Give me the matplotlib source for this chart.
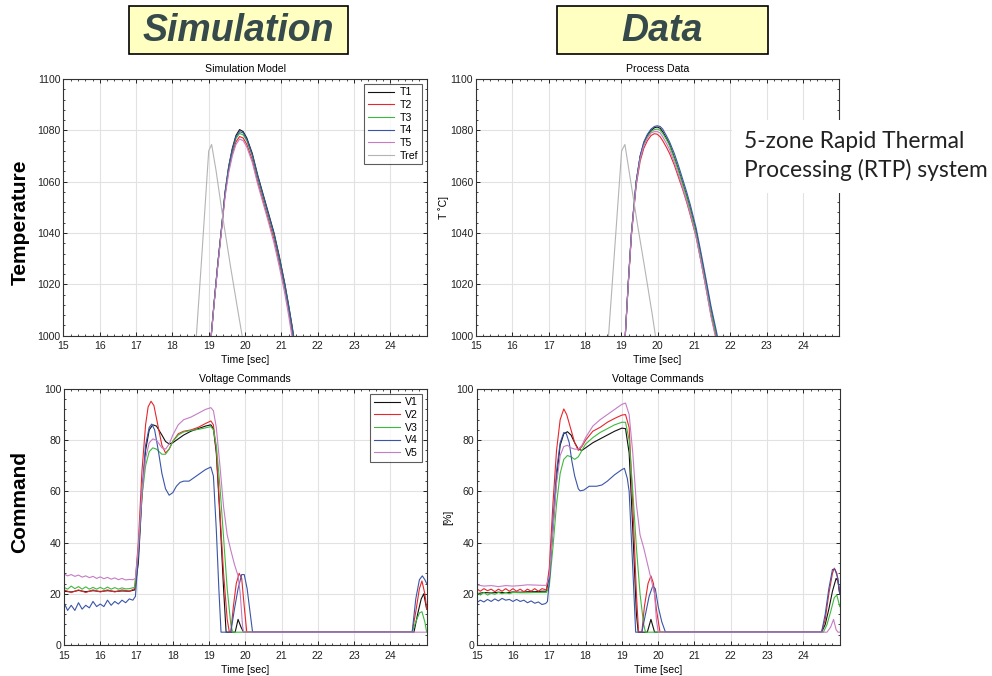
import matplotlib
matplotlib.use("Agg")
import matplotlib.pyplot as plt
from matplotlib.patches import Rectangle
from matplotlib.ticker import MultipleLocator, AutoMinorLocator

plt.rcParams['font.family'] = ['Liberation Sans', 'DejaVu Sans']

# ---------- data: simulated temperatures ----------
t_sim = [18.95, 19.05, 19.15, 19.25, 19.35, 19.45, 19.55, 19.65, 19.75, 19.85, 19.95,
         20.05, 20.2, 20.35, 20.5, 20.65, 20.8, 20.95, 21.1, 21.2, 21.3, 21.4]
T1_sim = [984, 997, 1013, 1028, 1041.5, 1056, 1066, 1073, 1078, 1080.3, 1079.5,
          1077, 1071, 1062.5, 1055, 1047.5, 1040, 1030.5, 1020, 1012, 1003.5, 994]
T2_sim = [984, 997, 1013, 1027.5, 1041, 1055, 1064.5, 1071, 1075.5, 1077.6, 1077,
          1074.5, 1068.5, 1060, 1052.5, 1045, 1037.5, 1028, 1018, 1010, 1001, 992]
T3_sim = [984, 997, 1013, 1028, 1041.5, 1055.5, 1065.5, 1072, 1076.8, 1078.8, 1078.2,
          1076, 1070, 1061.5, 1054, 1046.5, 1039, 1029.5, 1019, 1011, 1002.5, 993.5]
T4_sim = [984, 997, 1013, 1028, 1041.5, 1055.5, 1065.5, 1072.5, 1077.5, 1079.5, 1079,
          1076.5, 1070.5, 1062, 1054.5, 1047, 1039.5, 1030, 1019.5, 1011.5, 1003, 994]
T5_sim = [984, 996.5, 1012.5, 1027, 1040.5, 1054, 1063.5, 1070, 1074.5, 1076.6, 1076,
          1073.5, 1067.5, 1059, 1051.5, 1044, 1036, 1026.5, 1016, 1008, 999, 990]
t_ref_sim = [18.55, 18.66, 18.8, 19.0, 19.08, 19.2, 19.4, 19.6, 19.8, 19.92, 20.02]
Tref_sim = [985, 1000, 1029, 1072, 1074.5, 1064.5, 1045, 1027, 1010, 1000, 991]

# ---------- data: measured temperatures ----------
t_dat = [19.0, 19.11, 19.19, 19.28, 19.41, 19.52, 19.62, 19.72, 19.82, 19.91, 19.99, 20.07,
         20.14, 20.24, 20.33, 20.46, 20.58, 20.69, 20.8, 20.9, 21.06, 21.2, 21.34, 21.47,
         21.63, 21.75]
T1_dat = [985, 1000, 1020, 1040, 1060, 1070, 1075, 1078, 1080, 1081, 1081.3, 1080.8,
          1079.5, 1077, 1074.5, 1069.5, 1064.5, 1059.5, 1054.5, 1049.5, 1040.5, 1030.5,
          1020, 1010, 999.5, 990]
T2_dat = [985, 1000, 1019.5, 1039, 1058.5, 1068, 1073, 1076, 1078, 1078.7, 1078.5, 1077.5,
          1076, 1073.5, 1071, 1066.5, 1061.5, 1057, 1052, 1047, 1038.5, 1028.5, 1018,
          1008, 998, 989]
T3_dat = [985, 1000, 1020, 1040, 1059.5, 1069.5, 1074.5, 1077.5, 1079.5, 1080.3, 1080.5,
          1080, 1078.8, 1076.5, 1074, 1069, 1064, 1059, 1054, 1049, 1040, 1030, 1019.5,
          1009.5, 999.5, 990]
T4_dat = [985, 1000, 1020, 1040, 1060, 1070, 1075.5, 1078.5, 1080.5, 1081.5, 1081.8,
          1081.5, 1080.5, 1078, 1075.5, 1071, 1066, 1061, 1056, 1051, 1042, 1032, 1021.5,
          1011.5, 1001, 992]
T5_dat = [985, 1000, 1019.5, 1039.5, 1059, 1069, 1074, 1077, 1079, 1079.5, 1079.5, 1079,
          1077.5, 1075, 1072.5, 1067.5, 1062.5, 1057.5, 1052.5, 1047.5, 1038.5, 1028.5,
          1018, 1007.5, 997, 987]
t_ref_dat = [18.55, 18.65, 18.8, 19.01, 19.10, 19.25, 19.45, 19.65, 19.85, 19.94, 20.04]
Tref_dat = [985, 1000, 1030, 1072, 1074.5, 1061, 1043, 1026, 1008.5, 1000, 991]

# ---------- data: simulated voltage commands (time, value) ----------
V1_sim = [(15.0, 21), (15.2, 20.7), (15.4, 21.3), (15.6, 20.8), (15.8, 21.2), (16.0, 20.9),
          (16.2, 21.2), (16.4, 20.9), (16.6, 21.1), (16.8, 21.0), (16.95, 21.5), (17.05, 32),
          (17.15, 58), (17.25, 76), (17.35, 84), (17.45, 86), (17.55, 85.5), (17.7, 82),
          (17.8, 79.5), (17.9, 78.5), (18.0, 79), (18.15, 80.5), (18.3, 82), (18.5, 83.5),
          (18.7, 84.5), (18.9, 85.5), (19.05, 86), (19.12, 84.5), (19.2, 75), (19.3, 50),
          (19.4, 22), (19.47, 5), (19.72, 5), (19.8, 10), (19.88, 7), (19.95, 5),
          (24.65, 5), (24.75, 12), (24.85, 18), (24.92, 20), (25.0, 14)]
V2_sim = [(15.0, 21.5), (15.2, 20.5), (15.4, 21.5), (15.6, 20.5), (15.8, 21.5), (16.0, 20.7),
          (16.2, 21.5), (16.4, 20.7), (16.6, 21.5), (16.8, 21), (16.95, 22), (17.05, 40),
          (17.15, 68), (17.25, 86), (17.32, 93), (17.4, 95.2), (17.48, 93.5), (17.6, 85),
          (17.7, 78), (17.8, 75), (17.9, 76.5), (18.0, 79.5), (18.15, 82.5), (18.3, 83.5),
          (18.5, 84), (18.7, 85), (18.9, 86.5), (19.05, 87.5), (19.12, 86), (19.2, 76),
          (19.3, 52), (19.4, 28), (19.5, 10), (19.56, 5), (19.6, 5), (19.67, 15), (19.75, 24),
          (19.83, 28), (19.9, 26), (19.97, 15), (20.04, 5), (24.6, 5), (24.7, 13), (24.8, 22),
          (24.87, 25), (24.95, 20), (25.0, 14)]
V3_sim = [(15.0, 22.5), (15.1, 21.8), (15.2, 23), (15.3, 22), (15.4, 22.8), (15.5, 21.8),
          (15.6, 22.7), (15.7, 21.8), (15.8, 22.5), (15.9, 21.8), (16.0, 22.5), (16.1, 21.8),
          (16.2, 22.6), (16.3, 21.8), (16.4, 22.4), (16.5, 21.8), (16.6, 22.3), (16.7, 21.9),
          (16.8, 22), (16.95, 22.5), (17.05, 37), (17.15, 58), (17.25, 70), (17.35, 75.5),
          (17.45, 77), (17.55, 76.5), (17.7, 74.5), (17.8, 74.5), (17.9, 76.5), (18.0, 79.5),
          (18.15, 82), (18.3, 83.2), (18.5, 83.8), (18.7, 84.2), (18.9, 84.8), (19.05, 85.3),
          (19.12, 84), (19.2, 78), (19.3, 62), (19.4, 42), (19.5, 22), (19.6, 8), (19.65, 5),
          (24.6, 5), (24.7, 9), (24.8, 12.5), (24.87, 13), (24.95, 9), (25.0, 5)]
V4_sim = [(15.0, 16.5), (15.1, 13.5), (15.2, 15.5), (15.3, 13.5), (15.4, 16.5), (15.5, 14),
          (15.6, 15.5), (15.7, 14.5), (15.8, 17), (15.9, 15), (16.0, 16), (16.1, 15),
          (16.2, 17.5), (16.3, 15.5), (16.4, 17), (16.5, 16), (16.6, 17.5), (16.7, 16.5),
          (16.8, 18), (16.9, 17.5), (16.97, 19), (17.05, 35), (17.15, 60), (17.25, 78),
          (17.35, 85), (17.42, 86.3), (17.5, 84), (17.6, 76), (17.7, 67), (17.8, 61),
          (17.9, 58.5), (18.0, 59.5), (18.1, 62), (18.2, 63.5), (18.3, 64), (18.45, 64),
          (18.6, 65.5), (18.75, 67), (18.9, 68.5), (19.05, 69.5), (19.12, 66), (19.2, 45),
          (19.27, 22), (19.33, 5), (19.6, 5), (19.7, 14), (19.8, 22), (19.9, 27.5),
          (19.97, 27.5), (20.05, 22), (20.12, 14), (20.2, 5), (24.6, 5), (24.7, 18),
          (24.8, 25.5), (24.88, 27), (24.95, 25.5), (25.0, 24)]
V5_sim = [(15.0, 27.7), (15.1, 27), (15.2, 27.5), (15.3, 26.8), (15.4, 27.3), (15.5, 26.5),
          (15.6, 27), (15.7, 26.3), (15.8, 26.8), (15.9, 26), (16.0, 26.6), (16.1, 25.9),
          (16.2, 26.4), (16.3, 25.7), (16.4, 26.2), (16.5, 25.5), (16.6, 26), (16.7, 25.4),
          (16.8, 25.6), (16.9, 25.5), (16.97, 26), (17.05, 38), (17.15, 60), (17.25, 73),
          (17.35, 79), (17.45, 80.5), (17.55, 80), (17.7, 77), (17.8, 76.5), (17.9, 78.5),
          (18.0, 82), (18.15, 86), (18.3, 88), (18.5, 89), (18.7, 90.5), (18.9, 92),
          (19.05, 92.7), (19.12, 91.5), (19.2, 85), (19.3, 70), (19.4, 54), (19.5, 43),
          (19.6, 37), (19.7, 31.5), (19.8, 27), (19.86, 20), (19.92, 8), (19.95, 5), (25.0, 5)]

# ---------- data: measured voltage commands (time, value) ----------
V1_dat = [(15.0, 20), (15.2, 20.5), (15.4, 20.3), (15.6, 20.6), (15.8, 20.4), (16.0, 20.7),
          (16.2, 20.6), (16.4, 20.8), (16.6, 20.8), (16.8, 21), (16.92, 21), (17.0, 27),
          (17.1, 45), (17.2, 65), (17.3, 78), (17.4, 82.5), (17.5, 83.3), (17.6, 82),
          (17.7, 79), (17.8, 76.5), (17.9, 76), (18.0, 77), (18.2, 79), (18.4, 80.5),
          (18.6, 82), (18.8, 83.5), (19.0, 84.7), (19.1, 84.5), (19.2, 75), (19.3, 45),
          (19.4, 12), (19.45, 5), (19.7, 5), (19.8, 10), (19.9, 5), (24.5, 5), (24.6, 8),
          (24.7, 14), (24.8, 21), (24.9, 26), (24.95, 25), (25.0, 20)]
V2_dat = [(15.0, 22), (15.1, 21), (15.2, 22), (15.3, 21.2), (15.4, 21.8), (15.5, 20.8),
          (15.6, 21.8), (15.7, 21), (15.8, 22), (15.9, 21), (16.0, 22), (16.1, 21),
          (16.2, 21.8), (16.3, 20.8), (16.4, 21.8), (16.5, 21), (16.6, 22), (16.7, 21),
          (16.8, 22), (16.92, 21.5), (17.0, 30), (17.1, 55), (17.2, 76), (17.3, 88),
          (17.4, 92.2), (17.48, 90), (17.6, 84), (17.7, 79), (17.8, 76), (17.9, 77.5),
          (18.0, 80), (18.2, 83.5), (18.4, 85), (18.6, 87), (18.8, 88.5), (19.0, 89.8),
          (19.1, 90), (19.2, 85), (19.3, 55), (19.4, 20), (19.46, 5), (19.55, 5), (19.62, 15),
          (19.72, 24), (19.8, 27), (19.87, 24), (19.95, 14), (20.05, 5), (24.5, 5), (24.6, 10),
          (24.7, 20), (24.8, 28), (24.85, 30), (24.92, 28), (25.0, 20)]
V3_dat = [(15.0, 20.5), (15.1, 19.5), (15.2, 20.5), (15.3, 19.5), (15.4, 20.2), (15.5, 19.8),
          (15.6, 20.5), (15.7, 20), (15.8, 20.5), (15.9, 20), (16.0, 20.5), (16.2, 20.4),
          (16.4, 20.4), (16.6, 20.5), (16.8, 20.5), (16.92, 20.5), (17.0, 23), (17.1, 38),
          (17.2, 55), (17.3, 67), (17.4, 72.5), (17.5, 74), (17.6, 73.5), (17.7, 72.5),
          (17.8, 73.5), (17.9, 76), (18.0, 78.5), (18.2, 81), (18.4, 83), (18.6, 84.5),
          (18.8, 86), (19.0, 87), (19.1, 87), (19.2, 80), (19.3, 60), (19.4, 38), (19.5, 20),
          (19.6, 8), (19.65, 5), (24.55, 5), (24.65, 8), (24.75, 13), (24.85, 18.5),
          (24.92, 19.5), (25.0, 15)]
V4_dat = [(15.0, 16.5), (15.1, 17.5), (15.2, 16.8), (15.3, 17.8), (15.4, 17), (15.5, 18),
          (15.6, 17.2), (15.7, 18.2), (15.8, 17.5), (15.9, 17.8), (16.0, 17), (16.1, 17.8),
          (16.2, 17), (16.3, 17.5), (16.4, 16.5), (16.5, 17.2), (16.6, 16.3), (16.7, 16.8),
          (16.8, 15.8), (16.9, 16.2), (16.95, 17), (17.02, 28), (17.1, 48), (17.2, 68),
          (17.3, 79), (17.4, 83), (17.47, 82.5), (17.55, 79), (17.62, 72), (17.7, 66),
          (17.8, 61), (17.85, 60.2), (17.95, 60.5), (18.1, 62), (18.3, 62), (18.45, 62.5),
          (18.6, 64), (18.8, 66.5), (19.0, 68.5), (19.07, 69), (19.15, 65), (19.2, 60),
          (19.3, 30), (19.38, 5), (19.55, 5), (19.65, 12), (19.75, 19), (19.85, 23),
          (19.92, 22), (20.0, 15), (20.1, 9), (20.2, 5), (24.5, 5), (24.6, 12), (24.7, 22),
          (24.8, 29.5), (24.87, 29.5), (24.95, 26), (25.0, 20)]
V5_dat = [(15.0, 23.5), (15.2, 23), (15.4, 23.2), (15.6, 22.8), (15.8, 23.2), (16.0, 23),
          (16.2, 23.2), (16.4, 23.5), (16.6, 23.4), (16.8, 23.3), (16.92, 23.3), (17.0, 27),
          (17.1, 45), (17.2, 63), (17.3, 74), (17.4, 77.5), (17.5, 78), (17.6, 77),
          (17.7, 76.5), (17.8, 76.5), (17.9, 78), (18.0, 81), (18.2, 85.5), (18.4, 88),
          (18.6, 90), (18.8, 92), (19.0, 94), (19.1, 94.5), (19.2, 90), (19.3, 75), (19.4, 55),
          (19.5, 43), (19.6, 38), (19.7, 32), (19.8, 26), (19.9, 20), (19.95, 10), (20.0, 5),
          (24.65, 5), (24.75, 7), (24.83, 10), (24.9, 6), (24.95, 5), (25.0, 5)]

colors = ['#111111', '#e8262b', '#3dba3d', '#3a55a8', '#c57cc4']
ref_color = '#b4b4b4'
t_names = ['T1', 'T2', 'T3', 'T4', 'T5', 'Tref']
v_names = ['V1', 'V2', 'V3', 'V4', 'V5']
small = 7.6


def style_axes(ax, ylim, ymajor, title):
    ax.set_xlim(15, 25)
    ax.set_ylim(*ylim)
    ax.set_xticks(range(15, 25))
    ax.xaxis.set_minor_locator(AutoMinorLocator(5))
    ax.yaxis.set_major_locator(MultipleLocator(ymajor))
    ax.yaxis.set_minor_locator(AutoMinorLocator(5))
    ax.tick_params(which='both', direction='in', top=True, right=True,
                   labelsize=small, colors='#222222')
    ax.tick_params(axis='x', pad=4)
    ax.tick_params(axis='y', pad=2)
    ax.tick_params(which='major', length=3, width=0.7)
    ax.tick_params(which='minor', length=1.6, width=0.6)
    ax.grid(True, which='major', color='#e2e2e2', lw=0.8)
    ax.set_axisbelow(True)
    for s in ax.spines.values():
        s.set_color('#333333')
        s.set_linewidth(0.8)
    ax.set_title(title, fontsize=small, pad=5)
    ax.set_xlabel('Time [sec]', fontsize=small, labelpad=3)


def add_legend(ax):
    leg = ax.legend(loc='upper right', fontsize=small, frameon=True, fancybox=False,
                    edgecolor='#333333', handlelength=2.5, handletextpad=0.5,
                    borderaxespad=0.45, labelspacing=0.25, borderpad=0.35)
    leg.get_frame().set_linewidth(0.8)


def plot_pairs(ax, series, names):
    for pts, c, n in zip(series, colors, names):
        ax.plot([p[0] for p in pts], [p[1] for p in pts], color=c, lw=0.8, label=n)


fig = plt.figure(figsize=(9.92, 6.76), dpi=100)

ax1 = fig.add_axes([0.064, 0.5034, 0.366, 0.3797])
ax2 = fig.add_axes([0.4798, 0.5034, 0.3662, 0.3797])
ax3 = fig.add_axes([0.0645, 0.0459, 0.3656, 0.3787])
ax4 = fig.add_axes([0.4805, 0.0459, 0.366, 0.3787])

# temperatures, simulation
for vals, c, n in zip([T1_sim, T2_sim, T3_sim, T4_sim, T5_sim], colors, t_names):
    ax1.plot(t_sim, vals, color=c, lw=0.8, label=n)
ax1.plot(t_ref_sim, Tref_sim, color=ref_color, lw=0.8, label='Tref')
style_axes(ax1, (1000, 1100), 20, 'Simulation Model')
add_legend(ax1)

# temperatures, process data
for vals, c in zip([T1_dat, T2_dat, T3_dat, T4_dat, T5_dat], colors):
    ax2.plot(t_dat, vals, color=c, lw=0.8)
ax2.plot(t_ref_dat, Tref_dat, color=ref_color, lw=0.8)
style_axes(ax2, (1000, 1100), 20, 'Process Data')
ax2.set_ylabel('T \u02daC]', fontsize=small, labelpad=1)

# voltage commands, simulation
plot_pairs(ax3, [V1_sim, V2_sim, V3_sim, V4_sim, V5_sim], v_names)
style_axes(ax3, (0, 100), 20, 'Voltage Commands')
add_legend(ax3)

# voltage commands, process data
plot_pairs(ax4, [V1_dat, V2_dat, V3_dat, V4_dat, V5_dat], v_names)
style_axes(ax4, (0, 100), 20, 'Voltage Commands')
ax4.set_ylabel('[%]', fontsize=small, labelpad=2)

# header boxes
W, H = 992, 676
for (x0, x1), label in [((129, 348), 'Simulation'), ((557, 768), 'Data')]:
    fig.patches.append(Rectangle((x0 / W, 1 - 54 / H), (x1 - x0) / W, 48 / H,
                                 transform=fig.transFigure, facecolor='#ffffc2',
                                 edgecolor='black', lw=1.2))
    fig.text((x0 + x1) / 2 / W, 1 - 31 / H, label, ha='center', va='center',
             fontsize=27, fontweight='bold', fontstyle='italic', color='#36494b')

# row labels
fig.text(20 / W, 1 - 222 / H, 'Temperature', rotation=90, ha='center', va='center',
         fontsize=15, fontweight='bold')
fig.text(20 / W, 1 - 502 / H, 'Command', rotation=90, ha='center', va='center',
         fontsize=15, fontweight='bold')

# annotation box on the right
fig.patches.append(Rectangle((732 / W, 1 - 193 / H), 260 / W, 73 / H,
                             transform=fig.transFigure, facecolor='white',
                             edgecolor='none', zorder=10))
fig.text(744 / W, 1 - 156 / H, '5-zone Rapid Thermal\nProcessing (RTP) system',
         ha='left', va='center', fontsize=16.4, family=['Lato', 'DejaVu Sans'],
         linespacing=1.38, color='#222222', zorder=11)

fig.savefig('out.png', dpi=100)
